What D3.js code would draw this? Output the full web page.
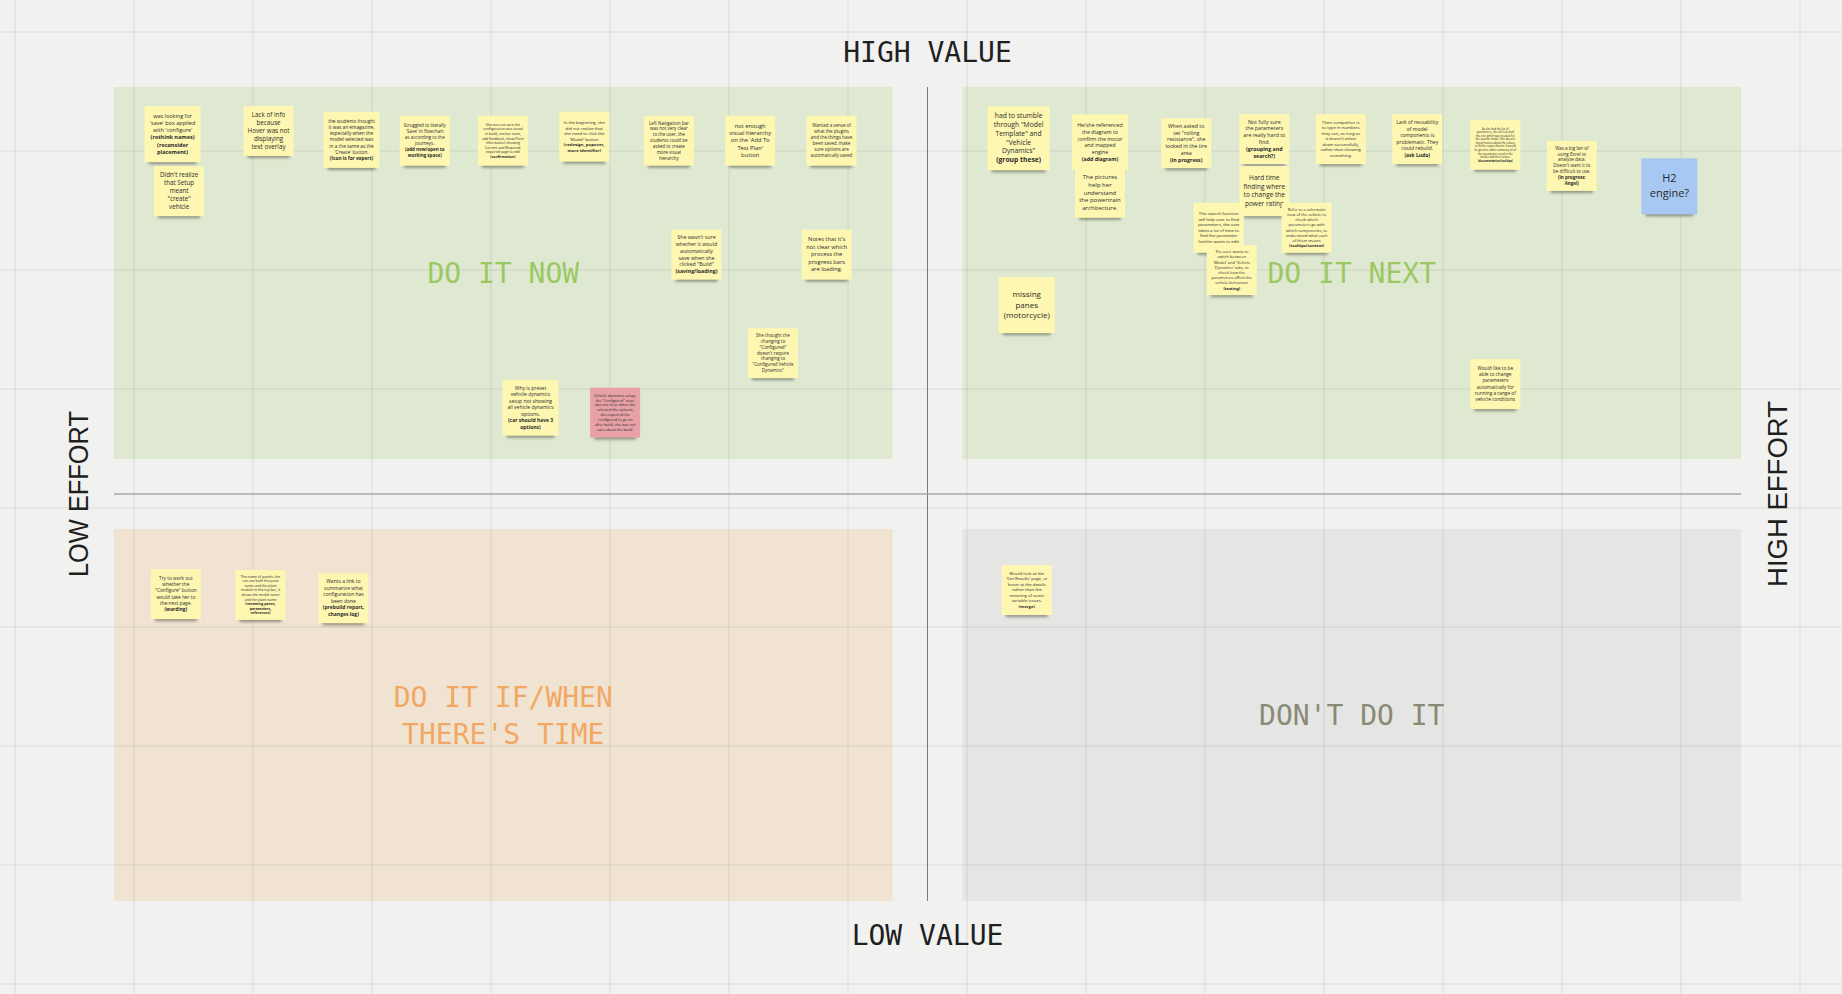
<!DOCTYPE html>
<html>
<head>
<meta charset="utf-8">
<script src="https://cdn.jsdelivr.net/npm/d3@7"></script>
<style>
	body { margin: 0; background: #f1f2f0; overflow: hidden; }
</style>
</head>
<body>
<script>
//quadrant names, in the order: low effort/high value, high effort/high value, low effort/low value, high effort/low value
let quadrantNames = ["DO IT NOW", "DO IT NEXT", "DO IT IF/WHEN\nTHERE'S TIME", "DON'T DO IT"];
let quadrantEffort = ["low", "high", "low", "high"];
let quadrantValue = ["high", "high", "low", "low"];

//axis names
let valueNames = ["HIGH VALUE", "LOW VALUE"];
let effortNames = ["LOW EFFORT", "HIGH EFFORT"];

//sticky notes: text, bold tag, effort (0-100), value (0-100), colour and size category
let noteText = [
	"was looking for 'save' box applied with 'configure'",
	"Didn't realize that Setup meant \"create\" vehicle",
	"Lack of info because Hover was not displaying text overlay",
	"the students thought it was an emagazine, especially when the model selected was in a the same as the 'Create' button.",
	"Struggled to literally 'Save' in flowchart as according to the journeys.",
	"She was not sure the configuration was saved in build, unclear state, add feedback, show Plant Information showing Current and Required, required page to edit",
	"In the beginning, she did not realize that she need to click the 'Model' button",
	"Left Navigation bar was not very clear to the user, the students could be asked to create more visual hierarchy",
	"not enough visual hierarchy on the 'Add To Test Plan' button",
	"Wanted a sense of what the plugins and the things have been saved, make sure options are automatically saved",
	"She wasn't sure whether it would automatically save when she clicked \"Build\"",
	"Notes that it's not clear which process the progress bars are loading.",
	"She thought the changing to \"Configured\" doesn't require changing to \"Configured Vehicle Dynamics\"",
	"Why is preset vehicle dynamics setup not showing all vehicle dynamics options.",
	"Vehicle dynamics setup, the \"Configured\" state was not clear when she selected the options; she expected the Configured to go on after build, she was not sure about the build.",
	"had to stumble through \"Model Template\" and \"Vehicle Dynamics\"",
	"He/she referenced the diagram to confirm the motor and mapped engine",
	"The pictures help her understand the powertrain architecture.",
	"When asked to set \"rolling resistance\", she looked in the tire area",
	"Not fully sure the parameters are really hard to find.",
	"Hard time finding where to change the power rating",
	"Their competitor is to type in numbers they can, as long as it doesn't attest down successfully, rather than showing something.",
	"Lack of reusability of model components is problematic. They could rebuild.",
	"As she had the list of parameters, she still selected the one which was needed for the specific model. She doesn't know how to adjust the values to fit the requirements. It would be great to add a summary of all the parameters used in the model and their values.",
	"Was a big fan of using Excel to analyse data. Doesn't want it to be difficult to use.",
	"H2 engine?",
	"This search function will help user to find parameters, the user takes a lot of time to find the parameter he/she wants to edit",
	"Refer to a schematic view of the vehicle to check which parameters go with which components, to understand what each of them means",
	"The user wants to switch between 'Model' and 'Vehicle Dynamics' tabs, to check how the parameters affect the vehicle behaviour",
	"missing panes (motorcycle)",
	"Would like to be able to change parameters automatically for running a range of vehicle conditions",
	"Try to work out whether the \"Configure\" button would take her to the next page.",
	"The name of panels: she can see both the pane name and the plant module in the top bar, it shows the model name and the plant name",
	"Wants a link to summarize what configuration has been done",
	"Would look at the 'Get Results' page, or hover at the details rather than the meaning of some variable issues."
];
let noteTag = [
	"(rethink names) (reconsider placement)", "", "", "(Icon is for expert)", "(add new/open to working space)",
	"(confirmation)", "(redesign, popover, more identifier)", "", "", "",
	"(saving/loading)", "", "", "(car should have 3 options)", "",
	"(group these)", "(add diagram)", "", "(in progress)", "(grouping and search?)",
	"", "", "(ask Ludo)", "(documentation/tooltips)", "(in progress: Angel)",
	"", "", "(tooltips/context)", "(testing)", "",
	"", "(wording)", "(renaming panes, parameters, references)", "(prebuild report, changes log)", "(merge)"
];
let noteEffort = [
	3.6, 4.0, 9.5, 14.6, 19.1, 23.9, 28.9, 34.1, 39.1, 44.1,
	35.8, 43.8, 40.5, 25.6, 30.8,
	55.6, 60.6, 60.6, 65.9, 70.7, 70.7, 75.4, 80.1, 84.9, 89.6, 95.6,
	67.9, 73.3, 68.7, 56.1, 84.9,
	3.8, 9.0, 14.1, 56.1
];
let noteValue = [
	94.2, 87.2, 94.6, 93.5, 93.4, 93.4, 93.9, 93.4, 93.4, 93.4,
	79.4, 79.4, 67.3, 60.6, 60.0,
	93.7, 93.2, 87.0, 93.1, 93.6, 87.2, 93.6, 93.6, 92.9, 90.3, 87.8,
	82.7, 82.7, 77.5, 73.2, 63.5,
	37.7, 37.6, 37.2, 38.2
];
let noteColor = [
	"yellow", "yellow", "yellow", "yellow", "yellow", "yellow", "yellow", "yellow", "yellow", "yellow",
	"yellow", "yellow", "yellow", "yellow", "pink",
	"yellow", "yellow", "yellow", "yellow", "yellow", "yellow", "yellow", "yellow", "yellow", "yellow", "blue",
	"yellow", "yellow", "yellow", "yellow", "yellow",
	"yellow", "yellow", "yellow", "yellow"
];
let noteSize = [
	"m", "s", "s", "m", "s", "s", "s", "s", "s", "s",
	"s", "s", "s", "m", "s",
	"l", "m", "s", "s", "s", "s", "s", "s", "s", "s", "m",
	"s", "s", "s", "m", "s",
	"s", "s", "s", "s"
];

//svg covering the whole window
let width = 1842;
let height = 994;
let svg = d3.select("body").append("svg")
	.attr("width", width)
	.attr("height", height);

let margin = {top: 87, right: 101, bottom: 93, left: 114};
let gap = 35; //half the space between quadrants

let scaleX = d3.scaleLinear() //effort
	.domain([0, 100])
	.range([margin.left, width - margin.right]);
let scaleY = d3.scaleLinear() //value
	.domain([0, 100])
	.range([height - margin.bottom, margin.top]);

let cx = scaleX(50);
let cy = scaleY(50);

let quadFill = d3.scaleOrdinal()
	.domain(quadrantNames)
	.range(["#dfe9d2", "#dfe9d2", "#f0e3d2", "#e5e5e4"]);
let quadText = d3.scaleOrdinal()
	.domain(quadrantNames)
	.range(["#9cc862", "#9cc862", "#f2a863", "#8a8a74"]);
let noteFill = d3.scaleOrdinal()
	.domain(["yellow", "blue", "pink"])
	.range(["#fdf7b2", "#a7c8f2", "#e8a1a7"]);
let noteBox = d3.scaleOrdinal()
	.domain(["s", "m", "l"])
	.range([[50, 50], [56, 56], [62, 64]]);

/*

QUADRANTS

*/

let quads = quadrantNames.map((name, i) => ({
	name: name,
	x0: quadrantEffort[i] == "low" ? scaleX(0) : cx + gap,
	x1: quadrantEffort[i] == "low" ? cx - gap : scaleX(100),
	y0: quadrantValue[i] == "high" ? scaleY(100) : cy + gap,
	y1: quadrantValue[i] == "high" ? cy - gap : scaleY(0)
}));

svg.append("g").selectAll("rect")
	.data(quads)
	.join("rect")
	.attr("x", d => d.x0)
	.attr("y", d => d.y0)
	.attr("width", d => d.x1 - d.x0)
	.attr("height", d => d.y1 - d.y0)
	.attr("fill", d => quadFill(d.name));

//board grid drawn over the quadrants, faintly
let grid = svg.append("g")
	.attr("stroke", "#000")
	.attr("stroke-opacity", 0.045)
	.attr("stroke-width", 2);
grid.selectAll(".gx")
	.data(d3.range(15, width, 119))
	.join("line")
	.attr("x1", d => d).attr("x2", d => d)
	.attr("y1", 0).attr("y2", height);
grid.selectAll(".gy")
	.data(d3.range(32, height, 119))
	.join("line")
	.attr("y1", d => d).attr("y2", d => d)
	.attr("x1", 0).attr("x2", width);

//quadrant labels
svg.append("g").selectAll("text")
	.data(quads)
	.join("text")
	.attr("font-family", "'DejaVu Sans Mono', monospace")
	.attr("font-size", 28)
	.attr("text-anchor", "middle")
	.attr("fill", d => quadText(d.name))
	.each(function(d) {
		let lines = d.name.split("\n");
		let mx = (d.x0 + d.x1) / 2;
		let my = (d.y0 + d.y1) / 2;
		d3.select(this).selectAll("tspan")
			.data(lines)
			.join("tspan")
			.attr("x", mx)
			.attr("y", (l, j) => my + 10 + (j - (lines.length - 1) / 2) * 37)
			.text(l => l);
	});

/*

AXES

*/

svg.append("line") //value axis
	.attr("x1", cx).attr("x2", cx)
	.attr("y1", scaleY(100)).attr("y2", scaleY(0))
	.attr("stroke", "#7a7a7a")
	.attr("stroke-width", 1);

svg.append("line") //effort axis
	.attr("x1", scaleX(0)).attr("x2", scaleX(100))
	.attr("y1", cy).attr("y2", cy)
	.attr("stroke", "#a8a8a8")
	.attr("stroke-width", 1.5);

svg.selectAll(".vname")
	.data(valueNames)
	.join("text")
	.attr("font-family", "'DejaVu Sans Mono', monospace")
	.attr("font-size", 28)
	.attr("fill", "#1f1f1f")
	.attr("text-anchor", "middle")
	.attr("x", cx)
	.attr("y", (d, i) => i == 0 ? scaleY(100) - 25 : scaleY(0) + 44)
	.text(d => d);

svg.selectAll(".ename")
	.data(effortNames)
	.join("text")
	.attr("font-family", "'Liberation Sans', Arial, sans-serif")
	.attr("font-size", 27)
	.attr("fill", "#1f1f1f")
	.attr("text-anchor", "middle")
	.attr("textLength", (d, i) => i == 0 ? 166 : 186)
	.attr("lengthAdjust", "spacingAndGlyphs")
	.attr("transform", (d, i) => `translate(${i == 0 ? scaleX(0) - 26 : scaleX(100) + 46}, ${cy}) rotate(-90)`)
	.text(d => d);

/*

STICKY NOTES

*/

let defs = svg.append("defs");
defs.append("filter")
	.attr("id", "blur")
	.attr("x", "-20%").attr("y", "-50%")
	.attr("width", "140%").attr("height", "200%")
	.append("feGaussianBlur")
	.attr("stdDeviation", 1.6);

let ctx = document.createElement("canvas").getContext("2d");

function wrap(text, size, weight, maxW) {
	ctx.font = `${weight} ${size}px "Open Sans"`;
	let lines = [];
	let cur = "";
	let widest = 0;
	text.split(/\s+/).filter(w => w).forEach(w => {
		let test = cur ? cur + " " + w : w;
		if (ctx.measureText(test).width > maxW && cur) {
			lines.push(cur);
			cur = w;
		} else {
			cur = test;
		}
	});
	if (cur) lines.push(cur);
	lines.forEach(l => widest = Math.max(widest, ctx.measureText(l).width));
	return {lines: lines, widest: widest};
}

//finds the biggest font that still fits the note
function fitNote(text, tag, w, h) {
	let maxW = w * 0.84;
	let maxH = h * 0.84;
	for (let fs = 11; fs >= 2.5; fs -= 0.25) {
		let a = wrap(text, fs, 400, maxW);
		let b = tag ? wrap(tag, fs, 700, maxW) : {lines: [], widest: 0};
		let n = a.lines.length + b.lines.length;
		if (Math.max(a.widest, b.widest) <= maxW && n * fs * 1.3 <= maxH) {
			return {fs: fs, lines: a.lines.map(l => [l, 400]).concat(b.lines.map(l => [l, 700]))};
		}
	}
	return {fs: 2.5, lines: [[text, 400]]};
}

let notes = noteText.map((t, i) => ({
	text: t,
	tag: noteTag[i],
	x: scaleX(noteEffort[i]),
	y: scaleY(noteValue[i]),
	fill: noteFill(noteColor[i]),
	w: noteBox(noteSize[i])[0],
	h: noteBox(noteSize[i])[1]
}));

let noteG = svg.append("g").selectAll("g")
	.data(notes)
	.join("g")
	.attr("transform", d => `translate(${d.x}, ${d.y})`);

noteG.append("rect") //shadow under the note
	.attr("x", d => -d.w / 2 + 4)
	.attr("y", d => d.h / 2 - 4)
	.attr("width", d => d.w - 8)
	.attr("height", 6)
	.attr("fill", "#4a4a3a")
	.attr("opacity", 0.55)
	.attr("filter", "url(#blur)");

noteG.append("rect")
	.attr("x", d => -d.w / 2)
	.attr("y", d => -d.h / 2)
	.attr("width", d => d.w)
	.attr("height", d => d.h)
	.attr("fill", d => d.fill);

noteG.append("text")
	.attr("font-family", "'Open Sans', sans-serif")
	.attr("fill", "#2a2a2a")
	.attr("text-anchor", "middle")
	.each(function(d) {
		let fit = fitNote(d.text, d.tag, d.w, d.h);
		let lh = fit.fs * 1.3;
		let top = -fit.lines.length * lh / 2 + fit.fs * 0.95;
		d3.select(this)
			.attr("font-size", fit.fs)
			.selectAll("tspan")
			.data(fit.lines)
			.join("tspan")
			.attr("x", 0)
			.attr("y", (l, j) => top + j * lh)
			.attr("font-weight", l => l[1])
			.text(l => l[0]);
	});
</script>
</body>
</html>
